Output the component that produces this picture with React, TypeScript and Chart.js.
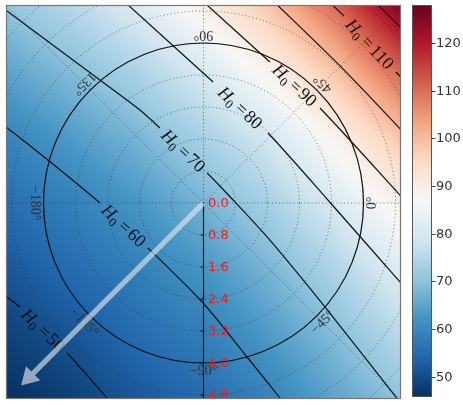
import React, { useEffect, useRef } from 'react';
import { Chart, registerables } from 'chart.js';

Chart.register(...registerables);

// ---------- colour scale ----------
const CB_MIN = 45.75;
const CB_MAX = 128;
const CB_TICKS = [50, 60, 70, 80, 90, 100, 110, 120];

// ---------- heat-map samples (H0) ----------
const GRID_X = [-4.95, -3.3, -1.65, 0, 1.65, 3.3, 4.95];
const GRID_Y = [4.95, 3.3, 1.65, 0, -1.65, -3.3, -4.95];
const H0_ROW_A = [70.5, 75.1, 81.2, 89.6, 98.8, 110.7, 126.0];
const H0_ROW_B = [64.8, 69.0, 73.9, 80.3, 88.7, 98.9, 111.2];
const H0_ROW_C = [59.4, 63.5, 67.8, 73.4, 79.7, 88.6, 98.9];
const H0_ROW_D = [55.5, 58.7, 62.7, 67.5, 73.3, 80.7, 89.3];
const H0_ROW_E = [51.6, 55.0, 58.4, 62.6, 67.8, 74.2, 81.7];
const H0_ROW_F = [48.3, 51.2, 55.1, 58.3, 63.4, 69.0, 75.7];
const H0_ROW_G = [45.8, 48.0, 51.7, 54.9, 59.2, 64.8, 70.2];
const H0_GRID = [H0_ROW_A, H0_ROW_B, H0_ROW_C, H0_ROW_D, H0_ROW_E, H0_ROW_F, H0_ROW_G];

// ---------- contour lines ----------
const LEVELS = [50, 60, 70, 80, 90, 100, 110, 120];
const C50: [number, number][] = [[-5.1, -2.21], [-4.59, -2.6], [-3.41, -3.75], [-2.22, -5.1]];
const C60: [number, number][] = [[-5.1, 2.03], [-3.89, 1.075], [-2.59, 0], [-1.39, -1.125], [-0.01, -2.5], [1.11, -3.875], [2.09, -5.1]];
const C70: [number, number][] = [[-5.1, 4.94], [-2.59, 3.075], [-1.59, 2.325], [-1.09, 1.875], [0.09, 0.75], [0.74, 0.075], [1.66, -0.93], [3.06, -2.63], [5.1, -5.22]];
const C80: [number, number][] = [[-2.05, 5.1], [0.24, 3.025], [1.61, 1.75], [3.11, 0.075], [5.1, -2.19]];
const C90: [number, number][] = [[-0.08, 5.1], [1.66, 3.525], [2.91, 2.375], [5.1, -0.01]];
const C100: [number, number][] = [[1.69, 5.1], [3.42, 3.42], [5.1, 1.66]];
const C110: [number, number][] = [[3.06, 5.1], [3.51, 4.675], [4.81, 3.275], [5.1, 2.98]];
const C120: [number, number][] = [[4.21, 5.1], [5.1, 4.22]];
const CONTOUR_LINES = [C50, C60, C70, C80, C90, C100, C110, C120];
const LABEL_GAPS = [1, 2, 3, 1, 1, -1, 1, -1];

// ---------- polar overlay ----------
const RADIAL_TICKS = [0, 0.8, 1.6, 2.4, 3.2, 4.0, 4.8];
const RADIAL_LABELS = ['0.0', '0.8', '1.6', '2.4', '3.2', '4.0', '4.8'];
const GRID_CIRCLES = [0.8, 1.6, 2.4, 3.2, 4.0, 4.8, 5.6, 6.4];
const ANGLE_TICKS = [0, 45, 90, 135, 180, -135, -90, -45];
const ANGLE_LABELS = ['0°', '45°', '90°', '135°', '−180°', '−135°', '−90°', '−45°'];
const ANGLE_LABEL_R = 4.22;
const SOLID_CIRCLE_R = 4.0;
const ARROW_END = [-4.56, -4.56];

const RDBU_R = [
  [5, 48, 97], [33, 102, 172], [67, 147, 195], [146, 197, 222], [209, 229, 240],
  [247, 247, 247], [253, 219, 199], [244, 165, 130], [214, 96, 77], [178, 24, 43], [103, 0, 31],
];

function cmap(v: number): [number, number, number] {
  let t = (v - CB_MIN) / (CB_MAX - CB_MIN);
  t = Math.max(0, Math.min(1, t));
  const s = t * 10;
  const i = Math.min(9, Math.floor(s));
  const f = s - i;
  const a = RDBU_R[i], b = RDBU_R[i + 1];
  return [a[0] + (b[0] - a[0]) * f, a[1] + (b[1] - a[1]) * f, a[2] + (b[2] - a[2]) * f];
}

function locate(arr: number[], v: number): [number, number] {
  const asc = arr[1] > arr[0];
  for (let k = 0; k < arr.length - 1; k++) {
    const a = arr[k], b = arr[k + 1];
    const inside = asc ? v <= b : v >= b;
    if (inside || k === arr.length - 2) {
      let f = (v - a) / (b - a);
      f = Math.max(0, Math.min(1, f));
      return [k, f];
    }
  }
  return [0, 0];
}

function sampleH0(x: number, y: number): number {
  const [i, fx] = locate(GRID_X, x);
  const [j, fy] = locate(GRID_Y, y);
  const v00 = H0_GRID[j][i], v01 = H0_GRID[j][i + 1];
  const v10 = H0_GRID[j + 1][i], v11 = H0_GRID[j + 1][i + 1];
  const top = v00 + (v01 - v00) * fx;
  const bot = v10 + (v11 - v10) * fx;
  return top + (bot - top) * fy;
}

const overlayPlugin = {
  id: 'polarOverlay',
  beforeDatasetsDraw(chart: any) {
    const { ctx, chartArea: ca, scales } = chart;
    const xs = scales.x, ys = scales.y;
    const L = Math.round(ca.left), T = Math.round(ca.top);
    const w = Math.round(ca.right) - L, h = Math.round(ca.bottom) - T;
    const img = ctx.createImageData(w, h);
    for (let j = 0; j < h; j++) {
      const yv = ys.getValueForPixel(T + j + 0.5);
      for (let i = 0; i < w; i++) {
        const xv = xs.getValueForPixel(L + i + 0.5);
        const c = cmap(sampleH0(xv, yv));
        const o = (j * w + i) * 4;
        img.data[o] = c[0]; img.data[o + 1] = c[1]; img.data[o + 2] = c[2]; img.data[o + 3] = 255;
      }
    }
    ctx.putImageData(img, L, T);

    const cx = xs.getPixelForValue(0), cy = ys.getPixelForValue(0);
    const ppu = xs.getPixelForValue(1) - cx;
    ctx.save();
    ctx.beginPath();
    ctx.rect(ca.left, ca.top, ca.right - ca.left, ca.bottom - ca.top);
    ctx.clip();
    ctx.setLineDash([1, 2.6]);
    ctx.strokeStyle = 'rgba(45,45,45,0.65)';
    ctx.lineWidth = 1;
    GRID_CIRCLES.forEach((r) => {
      ctx.beginPath();
      ctx.arc(cx, cy, r * ppu, 0, Math.PI * 2);
      ctx.stroke();
    });
    ANGLE_TICKS.forEach((a) => {
      if (a === -90) return;
      const rad = (a * Math.PI) / 180;
      ctx.beginPath();
      ctx.moveTo(cx, cy);
      ctx.lineTo(cx + 600 * Math.cos(rad), cy - 600 * Math.sin(rad));
      ctx.stroke();
    });
    ctx.setLineDash([]);
    ctx.strokeStyle = '#111';
    ctx.lineWidth = 1.2;
    ctx.beginPath();
    ctx.arc(cx, cy, SOLID_CIRCLE_R * ppu, 0, Math.PI * 2);
    ctx.stroke();
    // radial axis spine
    ctx.beginPath();
    ctx.moveTo(cx, cy);
    ctx.lineTo(cx, ca.bottom + 5);
    ctx.stroke();
    ctx.lineWidth = 1;
    RADIAL_TICKS.forEach((r) => {
      const py = ys.getPixelForValue(-r);
      ctx.beginPath();
      ctx.moveTo(cx - 3, py);
      ctx.lineTo(cx, py);
      ctx.stroke();
    });
    ctx.restore();
  },
  afterDatasetsDraw(chart: any) {
    const { ctx, chartArea: ca, scales } = chart;
    const xs = scales.x, ys = scales.y;
    const cx = xs.getPixelForValue(0), cy = ys.getPixelForValue(0);
    const ppu = xs.getPixelForValue(1) - cx;

    ctx.save();
    ctx.beginPath();
    ctx.rect(ca.left, ca.top, ca.right - ca.left, ca.bottom - ca.top);
    ctx.clip();

    // contour labels
    CONTOUR_LINES.forEach((pts, k) => {
      const g = LABEL_GAPS[k];
      if (g < 0) return;
      const p = pts[g], q = pts[g + 1];
      const px = xs.getPixelForValue(p[0]), py = ys.getPixelForValue(p[1]);
      const qx = xs.getPixelForValue(q[0]), qy = ys.getPixelForValue(q[1]);
      const mx = (px + qx) / 2, my = (py + qy) / 2;
      const ang = Math.atan2(qy - py, qx - px);
      const big = '18px "Liberation Serif"';
      const bigI = 'italic 18px "Liberation Serif"';
      const small = '12.5px "Liberation Serif"';
      const num = String(LEVELS[k]);
      ctx.font = bigI; const wH = ctx.measureText('H').width;
      ctx.font = small; const w0 = ctx.measureText('0').width;
      ctx.font = big; const wEq = ctx.measureText('=').width; const wN = ctx.measureText(num).width;
      const total = wH + w0 + 4 + wEq + 2 + wN;
      ctx.save();
      ctx.translate(mx, my);
      ctx.rotate(ang);
      ctx.fillStyle = '#111';
      ctx.textBaseline = 'alphabetic';
      ctx.textAlign = 'left';
      let x = -total / 2;
      const base = 6;
      ctx.font = bigI; ctx.fillText('H', x, base); x += wH;
      ctx.font = small; ctx.fillText('0', x, base + 3.5); x += w0 + 4;
      ctx.font = big; ctx.fillText('=', x, base); x += wEq + 2;
      ctx.fillText(num, x, base);
      ctx.restore();
    });

    // angle labels
    ctx.font = '14px "Liberation Serif"';
    ctx.fillStyle = '#333';
    ctx.textAlign = 'center';
    ctx.textBaseline = 'middle';
    ANGLE_TICKS.forEach((a, k) => {
      const rad = (a * Math.PI) / 180;
      const lx = cx + ANGLE_LABEL_R * ppu * Math.cos(rad);
      const ly = cy - ANGLE_LABEL_R * ppu * Math.sin(rad);
      ctx.save();
      ctx.translate(lx, ly);
      ctx.rotate(((270 - a) * Math.PI) / 180);
      ctx.fillText(ANGLE_LABELS[k], 0, 0);
      ctx.restore();
    });

    // radial labels
    ctx.font = '13px "DejaVu Sans"';
    ctx.fillStyle = '#f01818';
    ctx.textAlign = 'left';
    ctx.textBaseline = 'middle';
    RADIAL_TICKS.forEach((r, k) => {
      ctx.fillText(RADIAL_LABELS[k], cx + 4.5, ys.getPixelForValue(-r) + 0.5);
    });

    // arrow
    const x1 = xs.getPixelForValue(ARROW_END[0]), y1 = ys.getPixelForValue(ARROW_END[1]);
    const len = Math.hypot(x1 - cx, y1 - cy);
    const ang = Math.atan2(y1 - cy, x1 - cx);
    const sw = 2.6, hw = 10, hl = 17;
    ctx.save();
    ctx.translate(cx, cy);
    ctx.rotate(ang);
    ctx.beginPath();
    ctx.moveTo(0, -sw);
    ctx.lineTo(len - hl, -sw);
    ctx.lineTo(len - hl, -hw);
    ctx.lineTo(len, 0);
    ctx.lineTo(len - hl, hw);
    ctx.lineTo(len - hl, sw);
    ctx.lineTo(0, sw);
    ctx.closePath();
    ctx.fillStyle = 'rgba(232,234,240,0.62)';
    ctx.fill();
    ctx.restore();
    ctx.restore();

    // frame
    ctx.save();
    ctx.strokeStyle = '#777';
    ctx.lineWidth = 1.2;
    ctx.strokeRect(ca.left + 0.5, ca.top + 0.5, ca.right - ca.left - 1, ca.bottom - ca.top - 1);
    ctx.restore();
  },
  afterDraw(chart: any) {
    const { ctx, chartArea: ca } = chart;
    const left = 412, right = 432, top = ca.top, bottom = 397;
    for (let y = top; y < bottom; y++) {
      const v = CB_MAX - ((y + 0.5 - top) / (bottom - top)) * (CB_MAX - CB_MIN);
      const c = cmap(v);
      ctx.fillStyle = `rgb(${Math.round(c[0])},${Math.round(c[1])},${Math.round(c[2])})`;
      ctx.fillRect(left, y, right - left, 1);
    }
    ctx.strokeStyle = '#555';
    ctx.lineWidth = 1;
    ctx.strokeRect(left + 0.5, top + 0.5, right - left - 1, bottom - top - 1);
    ctx.font = '13px "DejaVu Sans"';
    ctx.fillStyle = '#333';
    ctx.textAlign = 'left';
    ctx.textBaseline = 'middle';
    CB_TICKS.forEach((t) => {
      const y = top + ((CB_MAX - t) / (CB_MAX - CB_MIN)) * (bottom - top);
      ctx.beginPath();
      ctx.moveTo(right, Math.round(y) + 0.5);
      ctx.lineTo(right + 3.5, Math.round(y) + 0.5);
      ctx.strokeStyle = '#444';
      ctx.stroke();
      ctx.fillText(String(t), right + 4, y + 0.5);
    });
  },
};

export default function App() {
  const ref = useRef<HTMLCanvasElement | null>(null);
  useEffect(() => {
    if (!ref.current) return;
    const chart = new Chart(ref.current, {
      type: 'scatter',
      data: {
        datasets: CONTOUR_LINES.map((pts, k) => ({
          label: 'H0=' + LEVELS[k],
          data: pts.map(([x, y]) => ({ x, y })),
          showLine: true,
          pointRadius: 0,
          borderColor: '#111',
          borderWidth: 1.2,
          tension: 0.25,
          clip: 0,
          segment: {
            borderColor: (s: any) => (s.p0DataIndex === LABEL_GAPS[k] ? 'rgba(0,0,0,0)' : undefined),
          },
        })),
      },
      options: {
        animation: false,
        responsive: false,
        events: [],
        layout: { padding: { left: 6, top: 5, right: 62, bottom: 6 } },
        plugins: { legend: { display: false }, tooltip: { enabled: false } },
        scales: {
          x: { type: 'linear', min: -4.9375, max: 4.9375, display: false },
          y: { type: 'linear', min: -4.9, max: 4.95, display: false },
        },
      } as any,
      plugins: [overlayPlugin],
    });
    return () => chart.destroy();
  }, []);
  return (
    <div style={{ position: 'fixed', left: 0, top: 0, width: 463, height: 405, background: '#fff' }}>
      <canvas ref={ref} width={463} height={405} />
    </div>
  );
}
